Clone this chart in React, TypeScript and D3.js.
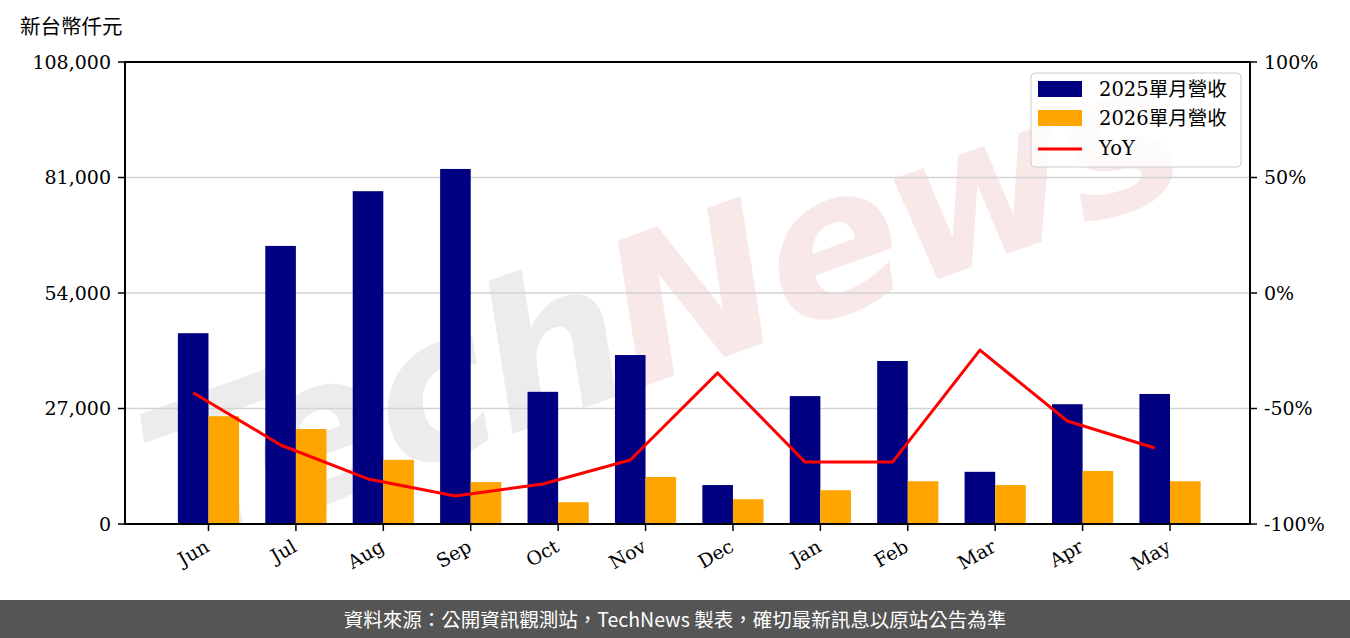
import React from "react";
import * as d3 from "d3";

const months = ["Jun", "Jul", "Aug", "Sep", "Oct", "Nov", "Dec", "Jan", "Feb", "Mar", "Apr", "May"];
const rev2025 = [44600, 65000, 77800, 83000, 30900, 39500, 9100, 29900, 38100, 12200, 28000, 30400];
const rev2026 = [25200, 22200, 15000, 9800, 5100, 11000, 5800, 7900, 10000, 9100, 12400, 10000];
const yoy = [-43.2, -65.8, -80.5, -87.9, -82.7, -72.3, -34.6, -73.2, -73.2, -24.7, -55.4, -67.1];
const leftTicks = [0, 27000, 54000, 81000, 108000];
const rightTicks = [-100, -50, 0, 50, 100];
const legendLabels = ["2025單月營收", "2026單月營收", "YoY"];

const W = 1350, H = 638;
const L = 125, R = 1250, T = 62, B = 524;
const serif = "'DejaVu Serif', 'Noto Sans CJK TC', serif";

export default function App() {
  const x = d3.scaleLinear().domain([-0.78, 12.09]).range([L, R]);
  const y = d3.scaleLinear().domain([0, 108000]).range([B, T]);
  const y2 = d3.scaleLinear().domain([-100, 100]).range([B, T]);
  const bw = x(0.35) - x(0);
  const line = d3.line<number>().x((_, i) => x(i)).y((d) => y2(d));
  const fmt = d3.format(",");

  return (
    <svg width={W} height={H} style={{ display: "block", position: "absolute", left: 0, top: 0 }}>
      <defs>
        <clipPath id="plotclip">
          <rect x={L} y={T} width={R - L} height={B - T} />
        </clipPath>
      </defs>
      <rect x={0} y={0} width={W} height={H} fill="#fff" />
      {/* watermark */}
      <g clipPath="url(#plotclip)">
        <g transform="translate(665,320) rotate(-20)">
          <text textAnchor="middle" dominantBaseline="middle" fontFamily="'DejaVu Sans', sans-serif" fontStyle="italic" fontWeight="bold" fontSize={200} letterSpacing={-4}>
            <tspan fill="#ececec">Tech</tspan>
            <tspan fill="#f9e8e8">News</tspan>
          </text>
        </g>
      </g>
      {/* gridlines */}
      {leftTicks.map((t) => (
        <line key={"g" + t} x1={L} x2={R} y1={y(t)} y2={y(t)} stroke="#d3d3d3" strokeWidth={1.5} />
      ))}
      {/* bars */}
      {rev2025.map((v, i) => (
        <rect key={"a" + i} x={x(i) - bw / 2} y={y(v)} width={bw} height={y(0) - y(v)} fill="#000080" />
      ))}
      {rev2026.map((v, i) => (
        <rect key={"b" + i} x={x(i) + bw / 2} y={y(v)} width={bw} height={y(0) - y(v)} fill="#FFA500" />
      ))}
      {/* yoy line */}
      <path d={line(yoy) || ""} fill="none" stroke="#ff0000" strokeWidth={3} strokeLinejoin="round" />
      {/* axes frame */}
      <rect x={L} y={T} width={R - L} height={B - T} fill="none" stroke="#000" strokeWidth={2} />
      {/* left ticks */}
      {leftTicks.map((t) => (
        <g key={"l" + t}>
          <line x1={L - 7} x2={L} y1={y(t)} y2={y(t)} stroke="#000" strokeWidth={1.5} />
          <text x={L - 14} y={y(t)} dy="0.35em" textAnchor="end" fontFamily={serif} fontSize={19} fill="#000">{fmt(t)}</text>
        </g>
      ))}
      {rightTicks.map((t) => (
        <g key={"r" + t}>
          <line x1={R} x2={R + 7} y1={y2(t)} y2={y2(t)} stroke="#000" strokeWidth={1.5} />
          <text x={R + 14} y={y2(t)} dy="0.35em" textAnchor="start" fontFamily={serif} fontSize={19} fill="#000">{t + "%"}</text>
        </g>
      ))}
      {months.map((m, i) => {
        const tx = x(i) + bw / 2;
        return (
          <g key={"m" + i}>
            <line x1={tx} x2={tx} y1={B} y2={B + 7} stroke="#000" strokeWidth={1.5} />
            <text transform={`translate(${tx - 5},${B + 14}) rotate(-30)`} textAnchor="end" dy="0.75em" fontFamily={serif} fontSize={19} fill="#000">{m}</text>
          </g>
        );
      })}
      {/* y label */}
      <text x={20} y={34} fontFamily={serif} fontSize={20.5} fill="#000">新台幣仟元</text>
      {/* legend */}
      <g>
        <rect x={1031} y={73} width={210} height={94} rx={4} fill="#fff" fillOpacity={0.8} stroke="#cccccc" strokeWidth={1} />
        <rect x={1038} y={81} width={44} height={16} fill="#000080" />
        <rect x={1038} y={110} width={44} height={16} fill="#FFA500" />
        <line x1={1038} x2={1082} y1={149} y2={149} stroke="#ff0000" strokeWidth={3} />
        {legendLabels.map((s, i) => (
          <text key={s} x={1099} y={89 + i * 29.5} dy="0.35em" fontFamily={serif} fontSize={19.5} fill="#000">{s}</text>
        ))}
      </g>
      {/* footer */}
      <rect x={0} y={600} width={W} height={38} fill="#555555" />
      <text x={675} y={620} dy="0.35em" textAnchor="middle" fontFamily="'Noto Sans CJK TC', 'Noto Sans', sans-serif" fontSize={19.5} fill="#fff">資料來源：公開資訊觀測站，TechNews 製表，確切最新訊息以原站公告為準</text>
    </svg>
  );
}
